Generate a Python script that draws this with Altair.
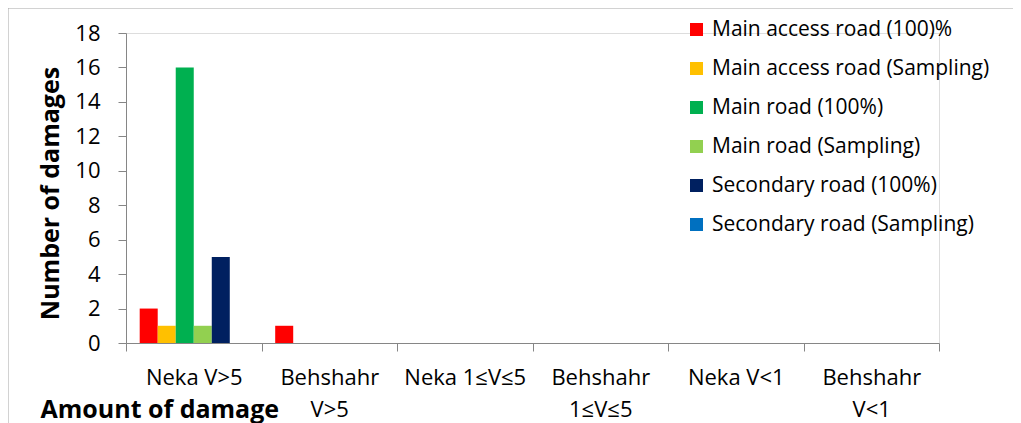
import altair as alt
import pandas as pd

categories = ["Neka V>5", "Behshahr V>5", "Neka 1≤V≤5", "Behshahr 1≤V≤5", "Neka V<1", "Behshahr V<1"]
series = [
    "Main access road (100)%",
    "Main access road (Sampling)",
    "Main road (100%)",
    "Main road (Sampling)",
    "Secondary road (100%)",
    "Secondary road (Sampling)",
]
colors = ["#FF0000", "#FFC000", "#00B050", "#92D050", "#002060", "#0070C0"]

main_access_100 = [2, 1, 0, 0, 0, 0]
main_access_sampling = [1, 0, 0, 0, 0, 0]
main_road_100 = [16, 0, 0, 0, 0, 0]
main_road_sampling = [1, 0, 0, 0, 0, 0]
secondary_100 = [5, 0, 0, 0, 0, 0]
secondary_sampling = [0, 0, 0, 0, 0, 0]

all_values = [main_access_100, main_access_sampling, main_road_100,
              main_road_sampling, secondary_100, secondary_sampling]

rows = []
for s, vals in zip(series, all_values):
    for c, v in zip(categories, vals):
        rows.append({"category": c, "series": s, "value": v})
df = pd.DataFrame(rows)

FONT = "Open Sans"
W, H = 813, 310

bars = alt.Chart(df).mark_bar().encode(
    x=alt.X("category:N", sort=categories,
            scale=alt.Scale(paddingInner=0, paddingOuter=0),
            axis=alt.Axis(
                title="Amount of damage",
                titleFont=FONT, titleFontSize=25, titleFontWeight="bold",
                titleAnchor="start", titleAlign="left", titleBaseline="alphabetic",
                titleX=-86, titleY=74, titleColor="black",
                labelAngle=0, labelFont=FONT, labelFontSize=22, labelColor="black",
                labelPadding=16, labelLineHeight=32, labelLimit=200,
                labelExpr="indexof(datum.label, 'Behshahr') == 0 ? split(datum.label, ' ') : datum.label",
                tickBand="extent", tickSize=8, tickColor="#868686",
                domainColor="#868686", grid=False,
            )),
    xOffset=alt.XOffset("series:N", sort=series,
                        scale=alt.Scale(paddingInner=0, paddingOuter=0.76)),
    y=alt.Y("value:Q",
            scale=alt.Scale(domain=[0, 18]),
            axis=alt.Axis(
                values=list(range(0, 19, 2)),
                title="Number of damages",
                titleFont=FONT, titleFontSize=25, titleFontWeight="bold",
                titleColor="black", titleAngle=270,
                titleX=-76, titleY=160, titleAlign="center", titleBaseline="middle",
                labelFont=FONT, labelFontSize=22, labelColor="black",
                labelPadding=18, tickSize=8, tickColor="#868686",
                domainColor="#868686", grid=False,
            )),
    color=alt.Color("series:N", sort=series,
                    scale=alt.Scale(domain=series, range=colors),
                    legend=alt.Legend(
                        title=None, orient="none", legendX=560, legendY=-14,
                        symbolType="square", symbolSize=170, symbolStrokeWidth=0,
                        labelFont=FONT, labelFontSize=21, labelColor="black",
                        labelLimit=400, rowPadding=17, labelOffset=5, padding=0,
                    )),
)

frame = alt.Chart(pd.DataFrame({"a": [0]})).mark_rect(
    fill=None, stroke="#a6a6a6", strokeWidth=1
).encode(
    x=alt.value(-118), x2=alt.value(900),
    y=alt.value(-25), y2=alt.value(420),
)

chart = alt.layer(frame, bars).properties(
    width=W, height=H,
    autosize=alt.AutoSizeParams(type="none"),
    padding={"left": 118, "top": 25, "right": 74, "bottom": 80},
).configure_view(stroke=None).configure(background="white")

chart.save("out.html", embed_options={"renderer": "svg", "actions": False})
